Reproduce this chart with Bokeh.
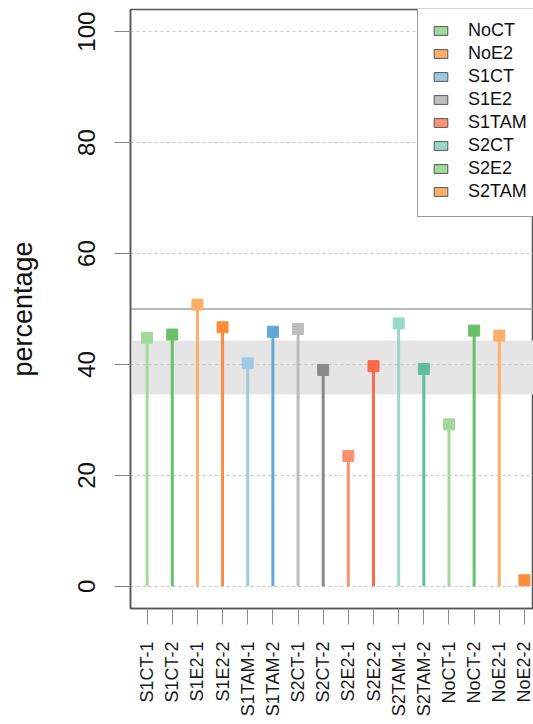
import math
from bokeh.plotting import figure
from bokeh.models import (Range1d, FixedTicker, BoxAnnotation, Span, Legend, LegendItem)
from bokeh.embed import file_html
from bokeh.resources import INLINE

samples = ["S1CT-1", "S1CT-2", "S1E2-1", "S1E2-2", "S1TAM-1", "S1TAM-2",
           "S2CT-1", "S2CT-2", "S2E2-1", "S2E2-2", "S2TAM-1", "S2TAM-2",
           "NoCT-1", "NoCT-2", "NoE2-1", "NoE2-2"]
values = [44.8, 45.4, 50.8, 46.7, 40.2, 45.9,
          46.4, 39.0, 23.5, 39.7, 47.4, 39.2,
          29.2, 46.1, 45.2, 1.1]
colors = ["#a1d99b", "#6abf69", "#fdae6b", "#fd8d3c", "#9ecae1", "#62a8d6",
          "#bdbdbd", "#8a8a8a", "#fc9272", "#fb6a4a", "#99d8c9", "#5fbe9b",
          "#a1d99b", "#6abf69", "#fdae6b", "#fd8d3c"]
legend_labels = ["NoCT", "NoE2", "S1CT", "S1E2", "S1TAM", "S2CT", "S2E2", "S2TAM"]
legend_colors = ["#a1d99b", "#fdae6b", "#9ecae1", "#bdbdbd", "#fc9272", "#99d8c9",
                 "#a1d99b", "#fdae6b"]
band_low, band_high = 34.6, 44.3
ref_line = 50
y_ticks = [0, 20, 40, 60, 80, 100]

xs = list(range(1, len(samples) + 1))
zeros = [0] * len(samples)

FONT = "Liberation Sans"

p = figure(width=533, height=720, output_backend="svg", toolbar_location=None,
           x_range=Range1d(0.34, 16.36), y_range=Range1d(-4, 104),
           min_border_left=130, min_border_right=0, min_border_top=9,
           min_border_bottom=112)

p.outline_line_color = "#555555"
p.outline_line_width = 1.5
p.background_fill_color = "white"

# grid
p.xgrid.visible = False
p.ygrid.ticker = FixedTicker(ticks=y_ticks)
p.ygrid.grid_line_color = "#c8c8c8"
p.ygrid.grid_line_dash = "3 3"
p.ygrid.grid_line_width = 1

band = BoxAnnotation(bottom=band_low, top=band_high, fill_color="#e5e5e5",
                     fill_alpha=1.0, line_color=None, level="underlay")
p.center = [band] + list(p.center)
p.add_layout(Span(location=ref_line, dimension="width", line_color="#a0a0a0",
                  line_width=1.5, level="underlay"))

p.segment(x0=xs, y0=zeros, x1=xs, y1=values, line_color=colors, line_width=3)
p.scatter(x=xs, y=values, marker="square", size=11, fill_color=colors,
          line_color=colors, line_width=1)

# axes
p.xaxis.ticker = FixedTicker(ticks=xs)
p.xaxis.major_label_overrides = {x: s for x, s in zip(xs, samples)}
p.xaxis.major_label_orientation = math.pi / 2
p.xaxis.major_label_text_font = FONT
p.xaxis.major_label_text_font_size = "18px"
p.xaxis.major_label_text_color = "#1a1a1a"
p.xaxis.major_label_standoff = 17
p.xaxis.major_tick_out = 16
p.xaxis.major_tick_in = 0
p.xaxis.minor_tick_line_color = None
p.xaxis.major_tick_line_color = "#888888"
p.xaxis.axis_line_color = "#555555"
p.xaxis.axis_line_width = 1.5

p.yaxis.ticker = FixedTicker(ticks=y_ticks)
p.yaxis.major_label_orientation = "parallel"
p.yaxis.major_label_text_font = FONT
p.yaxis.major_label_text_font_size = "24px"
p.yaxis.major_label_text_color = "#111111"
p.yaxis.major_label_standoff = 19
p.yaxis.major_tick_out = 16
p.yaxis.major_tick_in = 0
p.yaxis.minor_tick_line_color = None
p.yaxis.major_tick_line_color = "#888888"
p.yaxis.axis_line_color = "#555555"
p.yaxis.axis_line_width = 1.5
p.yaxis.axis_label = "percentage"
p.yaxis.axis_label_text_font = FONT
p.yaxis.axis_label_text_font_size = "27px"
p.yaxis.axis_label_text_font_style = "normal"
p.yaxis.axis_label_text_color = "#111111"
p.yaxis.axis_label_standoff = 38

# legend (swatch renderers carry no visible data)
nan = float("nan")
items = []
for lab, col in zip(legend_labels, legend_colors):
    r = p.quad(left=[nan], right=[nan], top=[nan], bottom=[nan], fill_color=col,
               line_color="#555555", line_width=1)
    items.append(LegendItem(label=lab, renderers=[r]))
legend = Legend(items=items, location=(287, 391), glyph_width=17, glyph_height=11,
                label_text_font=FONT, label_text_font_size="18px",
                label_text_color="#111111", label_standoff=19, spacing=2,
                padding=14, margin=0, label_height=21,
                border_line_color="#333333", border_line_width=1,
                background_fill_color="white", background_fill_alpha=1.0)
p.add_layout(legend, "center")

open("out.html", "w").write(file_html(p, INLINE))
